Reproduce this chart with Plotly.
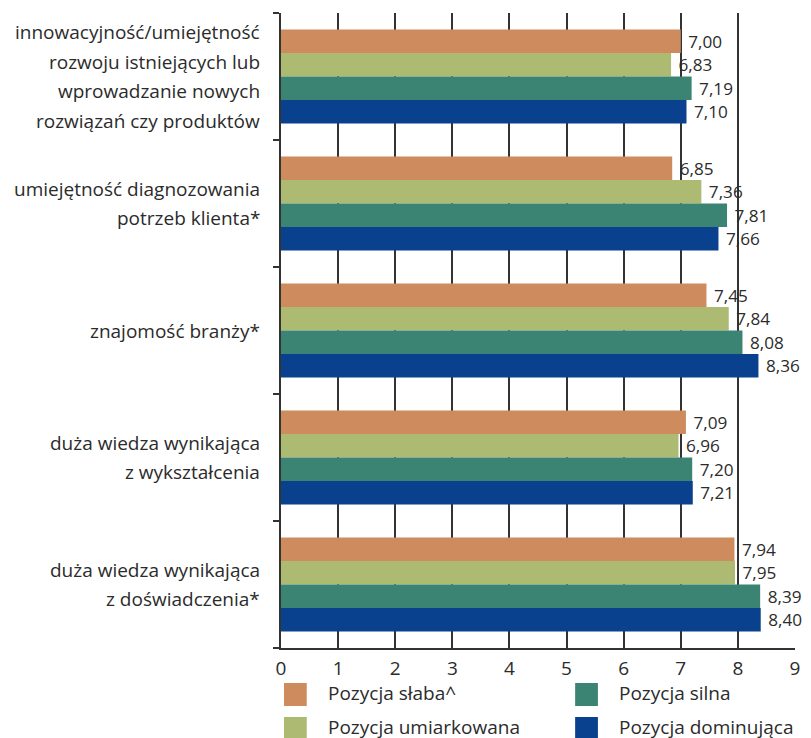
import plotly.graph_objects as go

categories = [
    "innowacyjność/umiejętność\nrozwoju istniejących lub\nwprowadzanie nowych\nrozwiązań czy produktów",
    "umiejętność diagnozowania\npotrzeb klienta*",
    "znajomość branży*",
    "duża wiedza wynikająca\nz wykształcenia",
    "duża wiedza wynikająca\nz doświadczenia*",
]
series_names = ["Pozycja słaba^", "Pozycja umiarkowana", "Pozycja silna", "Pozycja dominująca"]
series_colors = ["#CD8B5E", "#ADBA72", "#3B8474", "#0A418E"]
slaba = [7.00, 6.85, 7.45, 7.09, 7.94]
umiarkowana = [6.83, 7.36, 7.84, 6.96, 7.95]
silna = [7.19, 7.81, 8.08, 7.20, 8.39]
dominujaca = [7.10, 7.66, 8.36, 7.21, 8.40]
x_ticks = list(range(0, 10))

series_values = [slaba, umiarkowana, silna, dominujaca]
FONT = "Open Sans"
FS = 19
TXT = "#2b2b2b"
W, H = 811, 738
L, R, T, B = 281, 11, 13, 90
pw, ph = W - L - R, H - T - B

fig = go.Figure()
keys = list(range(len(categories)))
for name, color, vals in zip(series_names, series_colors, series_values):
    fig.add_trace(go.Bar(
        y=keys, x=vals, name=name, orientation="h",
        marker=dict(color=color, line=dict(width=0)),
        texttemplate=" %{x:.2f}", textposition="outside",
        textfont=dict(family=FONT, size=FS, color=TXT),
        cliponaxis=False, showlegend=False,
    ))

annotations = []
line_sp = 29.5
for k, cat in enumerate(categories):
    lines = cat.split("\n")
    n = len(lines)
    for i, ln in enumerate(lines):
        annotations.append(dict(
            x=0, xref="paper", y=k, yref="y", text=ln, showarrow=False,
            xanchor="right", yanchor="middle", xshift=-19,
            yshift=((n - 1) / 2 - i) * line_sp,
            font=dict(family=FONT, size=FS, color=TXT),
        ))

shapes = []
def px_x(p):
    return (p - L) / pw
def px_y(p):
    return (H - B - p) / ph

leg_pos = [(284, 683), (284, 717), (578, 683), (578, 717)]
for (sx, sy), name, color in zip(leg_pos, series_names, series_colors):
    shapes.append(dict(type="rect", xref="paper", yref="paper",
                       x0=px_x(sx), x1=px_x(sx + 23), y0=px_y(sy), y1=px_y(sy + 23),
                       fillcolor=color, line=dict(width=0)))
    annotations.append(dict(x=px_x(sx + 42), xref="paper", y=px_y(sy + 10), yref="paper",
                            text=name, showarrow=False, xanchor="left", yanchor="middle",
                            font=dict(family=FONT, size=FS, color=TXT)))

fig.update_layout(
    width=W, height=H,
    margin=dict(l=L, r=R, t=T, b=B),
    plot_bgcolor="white", paper_bgcolor="white",
    barmode="group", bargap=0.26, bargroupgap=0,
    separators=", ",
    font=dict(family=FONT, size=FS, color=TXT),
    xaxis=dict(range=[0, 9], tickvals=x_ticks, showgrid=True, gridcolor="#333333", gridwidth=1.5,
               showline=True, linecolor="#333333", linewidth=2, zeroline=False,
               ticks="", ticklabelstandoff=2,
               tickfont=dict(family=FONT, size=FS, color=TXT), fixedrange=True),
    yaxis=dict(range=[len(categories) - 0.5, -0.5], autorange=False,
               tickvals=[k - 0.5 for k in range(len(categories) + 1)],
               showgrid=False, zeroline=False,
               showline=True, linecolor="#333333", linewidth=1.5,
               ticks="outside", ticklen=6, tickwidth=1.5, tickcolor="#333333",
               showticklabels=False, type="linear"),
    annotations=annotations, shapes=shapes,
)
fig.write_html("out.html", config={"displayModeBar": False},
               post_script="document.body.style.margin='0';document.body.style.padding='0';")
